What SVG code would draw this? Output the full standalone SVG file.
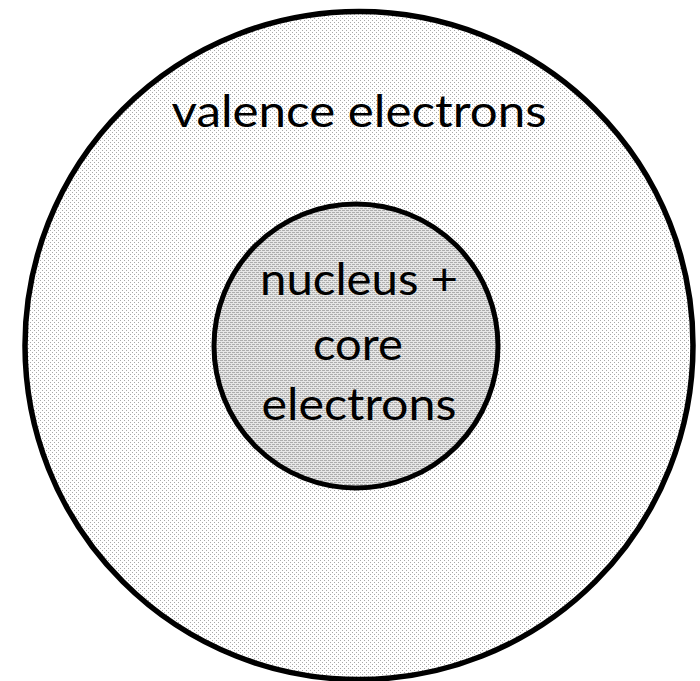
<svg xmlns="http://www.w3.org/2000/svg" width="700" height="681" viewBox="0 0 700 681">
<style>
text{font-family:Lato,"Open Sans","Liberation Sans",sans-serif;font-size:44px;fill:#000;text-anchor:middle}
.ring{stroke:#000}
</style>
<defs>
<pattern id="dots" width="4" height="4" patternUnits="userSpaceOnUse">
<rect width="4" height="4" fill="#fff"/>
<rect x="0" y="0" width="1" height="1" fill="#a8a8a8"/>
<rect x="2" y="2" width="1" height="1" fill="#a8a8a8"/>
</pattern>
<pattern id="brick" width="4" height="4" patternUnits="userSpaceOnUse">
<rect width="4" height="4" fill="#e6e6e6"/>
<rect x="0" y="0" width="3" height="1" fill="#adadad"/>
<rect x="2" y="2" width="2" height="1" fill="#adadad"/>
<rect x="0" y="2" width="1" height="1" fill="#adadad"/>
</pattern>
</defs>
<rect width="700" height="681" fill="#fff"/>
<g id="outer">
<circle class="ring" cx="359" cy="345.5" r="334" fill="url(#dots)" stroke-width="5.5"/>
<text x="359" y="127" textLength="375" lengthAdjust="spacingAndGlyphs">valence electrons</text>
</g>
<g id="inner">
<circle class="ring" cx="356" cy="346" r="142" fill="url(#brick)" stroke-width="5"/>
<text x="359" y="295" textLength="198" lengthAdjust="spacingAndGlyphs">nucleus +</text>
<text x="358" y="360" textLength="90" lengthAdjust="spacingAndGlyphs">core</text>
<text x="359" y="420" textLength="195" lengthAdjust="spacingAndGlyphs">electrons</text>
</g>
<g id="connectors"/>
</svg>
